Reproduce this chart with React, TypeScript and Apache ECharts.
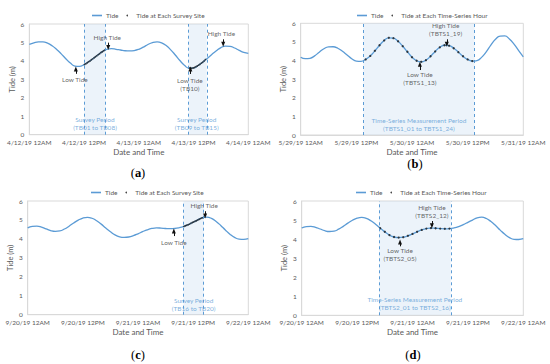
import React, { useEffect, useRef } from "react";
import * as echarts from "echarts";

const aprLabels = ["4/12/19 12AM", "4/12/19 12PM", "4/13/19 12AM", "4/13/19 12PM", "4/14/19 12AM"];
const mayLabels = ["5/29/19 12AM", "5/29/19 12PM", "5/30/19 12AM", "5/30/19 12PM", "5/31/19 12AM"];
const sepLabels = ["9/20/19 12AM", "9/20/19 12PM", "9/21/19 12AM", "9/21/19 12PM", "9/22/19 12AM"];

// hourly tide (m), hour 0..48
const tideApr = [4.90, 4.98, 5.03, 5.03, 4.96, 4.82, 4.62, 4.38, 4.12, 3.88, 3.72, 3.70, 3.80, 3.95, 4.13, 4.32, 4.50, 4.63, 4.66, 4.63, 4.59, 4.55, 4.54, 4.56, 4.63, 4.75, 4.89, 4.99, 5.03, 4.98, 4.83, 4.60, 4.32, 4.02, 3.76, 3.61, 3.62, 3.75, 3.93, 4.13, 4.35, 4.55, 4.72, 4.80, 4.79, 4.70, 4.57, 4.46, 4.41];
const tideMay = [4.18, 4.10, 4.12, 4.25, 4.45, 4.63, 4.73, 4.74, 4.66, 4.50, 4.30, 4.10, 3.97, 3.96, 4.06, 4.25, 4.52, 4.82, 5.08, 5.22, 5.20, 5.03, 4.77, 4.47, 4.18, 3.99, 3.93, 4.02, 4.23, 4.49, 4.71, 4.82, 4.80, 4.66, 4.45, 4.23, 4.06, 3.97, 4.00, 4.17, 4.46, 4.83, 5.14, 5.31, 5.32, 5.16, 4.88, 4.53, 4.20];
const tideSep = [4.58, 4.66, 4.67, 4.62, 4.53, 4.44, 4.40, 4.42, 4.52, 4.67, 4.84, 4.99, 5.10, 5.14, 5.09, 4.96, 4.78, 4.57, 4.38, 4.21, 4.11, 4.08, 4.10, 4.17, 4.27, 4.38, 4.48, 4.55, 4.58, 4.57, 4.55, 4.54, 4.55, 4.59, 4.66, 4.76, 4.88, 5.00, 5.12, 5.15, 5.08, 4.92, 4.71, 4.47, 4.25, 4.08, 3.99, 3.98, 4.02];

// survey-site tide readings (a, c)
const surveyHoursA = [12.1, 12.4, 12.7, 13.0, 13.3, 13.6, 13.9, 14.2, 14.5, 14.8, 15.1, 15.4, 15.7, 16.0, 16.3, 16.6, 35.0, 35.3, 35.6, 35.9, 36.2, 36.5, 36.8, 37.1, 37.4, 37.7, 38.0, 38.3, 38.6];
const surveyTideA = [3.81, 3.85, 3.90, 3.95, 4.00, 4.06, 4.11, 4.17, 4.22, 4.28, 4.34, 4.39, 4.45, 4.50, 4.55, 4.59, 3.61, 3.60, 3.60, 3.61, 3.64, 3.68, 3.72, 3.77, 3.82, 3.88, 3.93, 3.99, 4.07];
const surveyHoursC = [34.0, 34.3, 34.6, 34.9, 35.2, 35.5, 35.8, 36.1, 36.4, 36.7, 37.0, 37.3, 37.6, 37.9, 38.2];
const surveyTideC = [4.66, 4.69, 4.72, 4.75, 4.78, 4.82, 4.86, 4.89, 4.93, 4.96, 5.00, 5.04, 5.07, 5.10, 5.13];
// time-series hours (b, d) – values are the tide readings at those hours
const tsHoursB = [14, 15, 16, 17, 18, 19, 20, 21, 22, 23, 24, 25, 26, 27, 28, 29, 30, 31, 32, 33, 34, 35, 36, 37];
const tsHoursD = [17, 18, 19, 20, 21, 22, 23, 24, 25, 26, 27, 28, 29, 30, 31, 32];

const periodsA = [[12.05, 16.7], [34.9, 38.9]];
const periodsB = [[13.5, 37.5]];
const periodsC = [[33.9, 38.3]];
const periodsD = [[16.8, 32.3]];

const notesA = [
  { text: "Low Tide", x: 10.0, y: 2.97 },
  { text: "High Tide", x: 17.1, y: 5.28 },
  { text: "Low Tide\n(TB10)", x: 35.2, y: 2.71 },
  { text: "High Tide", x: 42.1, y: 5.48 },
  { text: "Survey Period\n(TB01 to TB08)", x: 14.4, y: 0.62, blue: true },
  { text: "Survey Period\n(TB09 to TB15)", x: 36.7, y: 0.62, blue: true },
];
const notesB = [
  { text: "High Tide\n(TBTS1_19)", x: 31.25, y: 5.65 },
  { text: "Low Tide\n(TBTS1_13)", x: 25.7, y: 3.05 },
  { text: "Time-Series Measurement Period\n(TBTS1_01 to TBTS1_24)", x: 25.5, y: 0.58, blue: true },
];
const notesC = [
  { text: "High Tide", x: 38.4, y: 5.74 },
  { text: "Low Tide", x: 31.8, y: 3.8 },
  { text: "Survey Period\n(TB16 to TB20)", x: 36.1, y: 0.55, blue: true },
];
const notesD = [
  { text: "High Tide\n(TBTS2_12)", x: 28.2, y: 5.43 },
  { text: "Low Tide\n(TBTS2_05)", x: 21.3, y: 3.17 },
  { text: "Time-Series Measurement Period\n(TBTS2_01 to TBTS2_16)", x: 24.5, y: 0.6, blue: true },
];
// arrows: [hour, fromTide, toTide]
const arrowsA = [[10.2, 3.3, 3.56], [17.3, 4.99, 4.72], [35.3, 3.29, 3.56], [42.5, 5.17, 4.9]];
const arrowsB = [[31.5, 5.14, 4.87], [25.7, 3.49, 3.8]];
const arrowsC = [[38.6, 5.46, 5.21], [31.8, 4.15, 4.42]];
const arrowsD = [[28.2, 4.95, 4.7], [21.3, 3.62, 3.85]];

const FONT = "Lato";
const BLUE = "#5b9bd5";
const GREY = "#595959";

type Panel = {
  grid: { left: number; top: number; width: number; height: number };
  legendPos: { left: number; top: number };
  titlePos: { x: number; y: number };
  letter: string;
  labels: string[];
  tide: number[];
  dotName: string;
  dotSize: number;
  dots: number[][];
  periods: number[][];
  notes: { text: string; x: number; y: number; blue?: boolean }[];
  arrows: number[][];
};

const panels: Panel[] = [
  {
    grid: { left: 29.3, top: 24, width: 219, height: 110.7 },
    legendPos: { left: 87, top: 7 },
    titlePos: { x: 138, y: 173 },
    letter: "a",
    labels: aprLabels,
    tide: tideApr,
    dotName: "Tide at Each Survey Site",
    dotSize: 1.7,
    dots: surveyHoursA.map((h, i) => [h, surveyTideA[i]]),
    periods: periodsA,
    notes: notesA,
    arrows: arrowsA,
  },
  {
    grid: { left: 300.7, top: 23.3, width: 222.6, height: 111.7 },
    legendPos: { left: 352, top: 7 },
    titlePos: { x: 415, y: 164 },
    letter: "b",
    labels: mayLabels,
    tide: tideMay,
    dotName: "Tide at Each Time-Series Hour",
    dotSize: 2.3,
    dots: tsHoursB.map((h) => [h, tideMay[h]]),
    periods: periodsB,
    notes: notesB,
    arrows: arrowsB,
  },
  {
    grid: { left: 27.7, top: 201, width: 220.6, height: 113.7 },
    legendPos: { left: 86, top: 184 },
    titlePos: { x: 138, y: 355 },
    letter: "c",
    labels: sepLabels,
    tide: tideSep,
    dotName: "Tide at Each Survey Site",
    dotSize: 1.7,
    dots: surveyHoursC.map((h, i) => [h, surveyTideC[i]]),
    periods: periodsC,
    notes: notesC,
    arrows: arrowsC,
  },
  {
    grid: { left: 301.7, top: 201, width: 221.6, height: 114.3 },
    legendPos: { left: 351, top: 184 },
    titlePos: { x: 413, y: 355 },
    letter: "d",
    labels: sepLabels,
    tide: tideSep,
    dotName: "Tide at Each Time-Series Hour",
    dotSize: 2.3,
    dots: tsHoursD.map((h) => [h, tideSep[h]]),
    periods: periodsD,
    notes: notesD,
    arrows: arrowsD,
  },
];

function buildOption() {
  const grid: any[] = [];
  const xAxis: any[] = [];
  const yAxis: any[] = [];
  const legend: any[] = [];
  const series: any[] = [];
  const graphic: any[] = [];

  panels.forEach((p, i) => {
    grid.push({ ...p.grid, show: true, borderColor: "#d9d9d9", borderWidth: 1, backgroundColor: "#fff", containLabel: false });
    xAxis.push({
      type: "value",
      gridIndex: i,
      min: 0,
      max: 48,
      interval: 12,
      name: "Date and Time",
      nameLocation: "middle",
      nameGap: 13,
      nameTextStyle: { fontSize: 8, color: GREY, fontFamily: FONT, verticalAlign: "top" },
      axisLine: { lineStyle: { color: "#d9d9d9" } },
      axisTick: { show: false },
      splitLine: { show: false },
      axisLabel: {
        fontSize: 6.5,
        color: GREY,
        fontFamily: FONT,
        margin: 4,
        formatter: (v: number) => p.labels[Math.round(v / 12)] ?? "",
      },
    });
    yAxis.push({
      type: "value",
      gridIndex: i,
      min: 0,
      max: 6,
      interval: 1,
      name: "Tide (m)",
      nameLocation: "middle",
      nameGap: 13,
      nameTextStyle: { fontSize: 7.5, color: GREY, fontFamily: FONT },
      axisLine: { show: true, lineStyle: { color: "#d9d9d9" } },
      axisTick: { show: false },
      splitLine: { show: false },
      axisLabel: { fontSize: 6.5, color: GREY, fontFamily: FONT, margin: 5 },
    });
    legend.push({
      ...p.legendPos,
      orient: "horizontal",
      itemWidth: 10,
      itemHeight: 1.6,
      itemGap: 8,
      selectedMode: false,
      textStyle: { fontSize: 6.5, color: GREY, fontFamily: FONT, padding: [0, 0, 0, -1] },
      data: [
        { name: "Tide", icon: "rect" },
        { name: p.dotName, icon: "circle", itemStyle: { color: "#1a1a1a" } },
      ],
    });
    series.push({
      type: "line",
      name: "Tide",
      xAxisIndex: i,
      yAxisIndex: i,
      data: p.tide.map((v, h) => [h, v]),
      smooth: true,
      showSymbol: false,
      color: BLUE,
      lineStyle: { color: BLUE, width: 1.3 },
      z: 3,
      markArea: {
        silent: true,
        itemStyle: { color: "rgba(200,220,242,0.35)" },
        data: p.periods.map((r) => [{ xAxis: r[0] }, { xAxis: r[1] }]),
      },
      markLine: {
        silent: true,
        symbol: "none",
        label: { show: false },
        lineStyle: { color: BLUE, type: [3, 3], width: 1 },
        data: p.periods.flat().map((x) => ({ xAxis: x })),
      },
    });
    series.push({
      type: "scatter",
      name: p.dotName,
      xAxisIndex: i,
      yAxisIndex: i,
      data: p.dots,
      symbol: "circle",
      symbolSize: p.dotSize,
      color: "#1a1a1a",
      itemStyle: { color: "#1a1a1a" },
      z: 4,
    });
    series.push({
      type: "scatter",
      name: "notes" + i,
      xAxisIndex: i,
      yAxisIndex: i,
      silent: true,
      symbolSize: 1,
      itemStyle: { color: "rgba(0,0,0,0)" },
      z: 5,
      label: {
        show: true,
        position: "inside",
        fontSize: 6.5,
        lineHeight: 8,
        fontFamily: FONT,
        color: "#404040",
        align: "center",
      },
      data: p.notes.map((n) => ({
        value: [n.x, n.y],
        label: { formatter: n.text, color: n.blue ? BLUE : "#404040" },
      })),
      markLine: {
        silent: true,
        symbol: ["none", "triangle"],
        symbolSize: [4, 5],
        label: { show: false },
        lineStyle: { color: "#111", width: 1, type: "solid" },
        data: p.arrows.map((a) => [{ coord: [a[0], a[1]] }, { coord: [a[0], a[2]] }]),
      },
    });
    graphic.push({
      type: "text",
      x: p.titlePos.x,
      y: p.titlePos.y,
      style: {
        text: "({b|" + p.letter + "})",
        fontFamily: "Liberation Serif",
        fontSize: 12.5,
        fill: "#000",
        align: "center",
        verticalAlign: "middle",
        rich: { b: { fontFamily: "Liberation Serif", fontSize: 12.5, fontWeight: "bold", fill: "#000" } },
      },
    });
  });

  return {
    animation: false,
    backgroundColor: "#fff",
    grid,
    xAxis,
    yAxis,
    legend,
    series,
    graphic,
  };
}

export default function App() {
  const ref = useRef<HTMLDivElement>(null);
  useEffect(() => {
    if (!ref.current) return;
    const chart = echarts.init(ref.current, undefined, { renderer: "svg" });
    chart.setOption(buildOption() as any);
    return () => chart.dispose();
  }, []);
  return (
    <div
      ref={ref}
      style={{ position: "fixed", left: 0, top: 0, width: 550, height: 364, background: "#fff" }}
    />
  );
}
